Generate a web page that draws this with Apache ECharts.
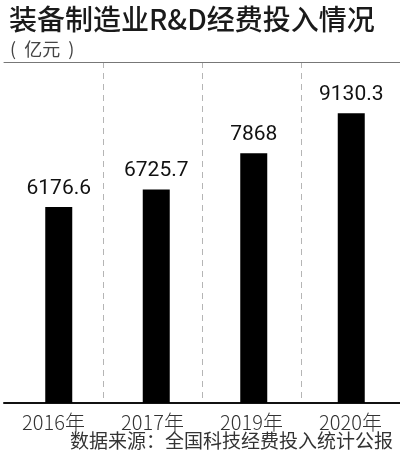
<!DOCTYPE html>
<html>
<head>
<meta charset="utf-8">
<script src="https://cdn.jsdelivr.net/npm/echarts@6/dist/echarts.min.js"></script>
<style>html,body{margin:0;padding:0;background:#fff}#c{width:400px;height:456px}</style>
</head>
<body>
<div id="c"></div>
<script>
const categories = ['2016年', '2017年', '2019年', '2020年'];
const values = [6176.6, 6725.7, 7868, 9130.3];
const yMax = 10747;

const chart = echarts.init(document.getElementById('c'), null, { renderer: 'canvas' });
const cjk = '"Noto Sans CJK SC", "Noto Sans", sans-serif';
chart.setOption({
  backgroundColor: '#fff',
  animation: false,
  title: [
    { text: '装备制造业R&D经费投入情况', left: 4, top: 0,
      textStyle: { fontFamily: cjk, fontSize: 28, fontWeight: 500, color: '#1a1a1a' } },
    { text: '(  亿元  )', left: 5, top: 35,
      textStyle: { fontFamily: cjk, fontSize: 18, fontWeight: 'normal', color: '#444' } },
    { text: '数据来源：全国科技经费投入统计公报', right: 2, bottom: 1,
      textStyle: { fontFamily: cjk, fontSize: 19, fontWeight: 'normal', color: '#333' } }
  ],
  grid: [
    { left: 4, right: 0, top: 62, bottom: 53 },
    { left: 10, right: -6, top: 62, bottom: 53 }
  ],
  xAxis: [
    { type: 'category', gridIndex: 0, position: 'bottom', data: categories,
      axisLine: { lineStyle: { color: '#111', width: 2 } },
      axisTick: { show: false },
      axisLabel: { fontFamily: cjk, fontSize: 20, fontWeight: 300, color: '#333', margin: 9 },
      splitLine: { show: true, interval: function (i) { return i > 0; },
        lineStyle: { color: '#b5b5b5', type: [6, 5], width: 1 } } },
    { type: 'category', gridIndex: 0, position: 'top', data: categories,
      axisLine: { lineStyle: { color: '#777', width: 1 } },
      axisTick: { show: false }, axisLabel: { show: false }, splitLine: { show: false } },
    { type: 'category', gridIndex: 1, data: categories, show: false }
  ],
  yAxis: [
    { type: 'value', gridIndex: 0, min: 0, max: yMax, show: false, splitLine: { show: false } },
    { type: 'value', gridIndex: 1, min: 0, max: yMax, show: false, splitLine: { show: false } }
  ],
  series: [
    { type: 'bar', xAxisIndex: 2, yAxisIndex: 1, data: values, barWidth: 27,
      itemStyle: { color: '#000' },
      label: { show: true, position: 'top', distance: 8,
        fontFamily: 'Roboto, sans-serif', fontSize: 21, color: '#111',
        formatter: function (p) { return String(p.value); } } }
  ]
});
</script>
</body>
</html>
